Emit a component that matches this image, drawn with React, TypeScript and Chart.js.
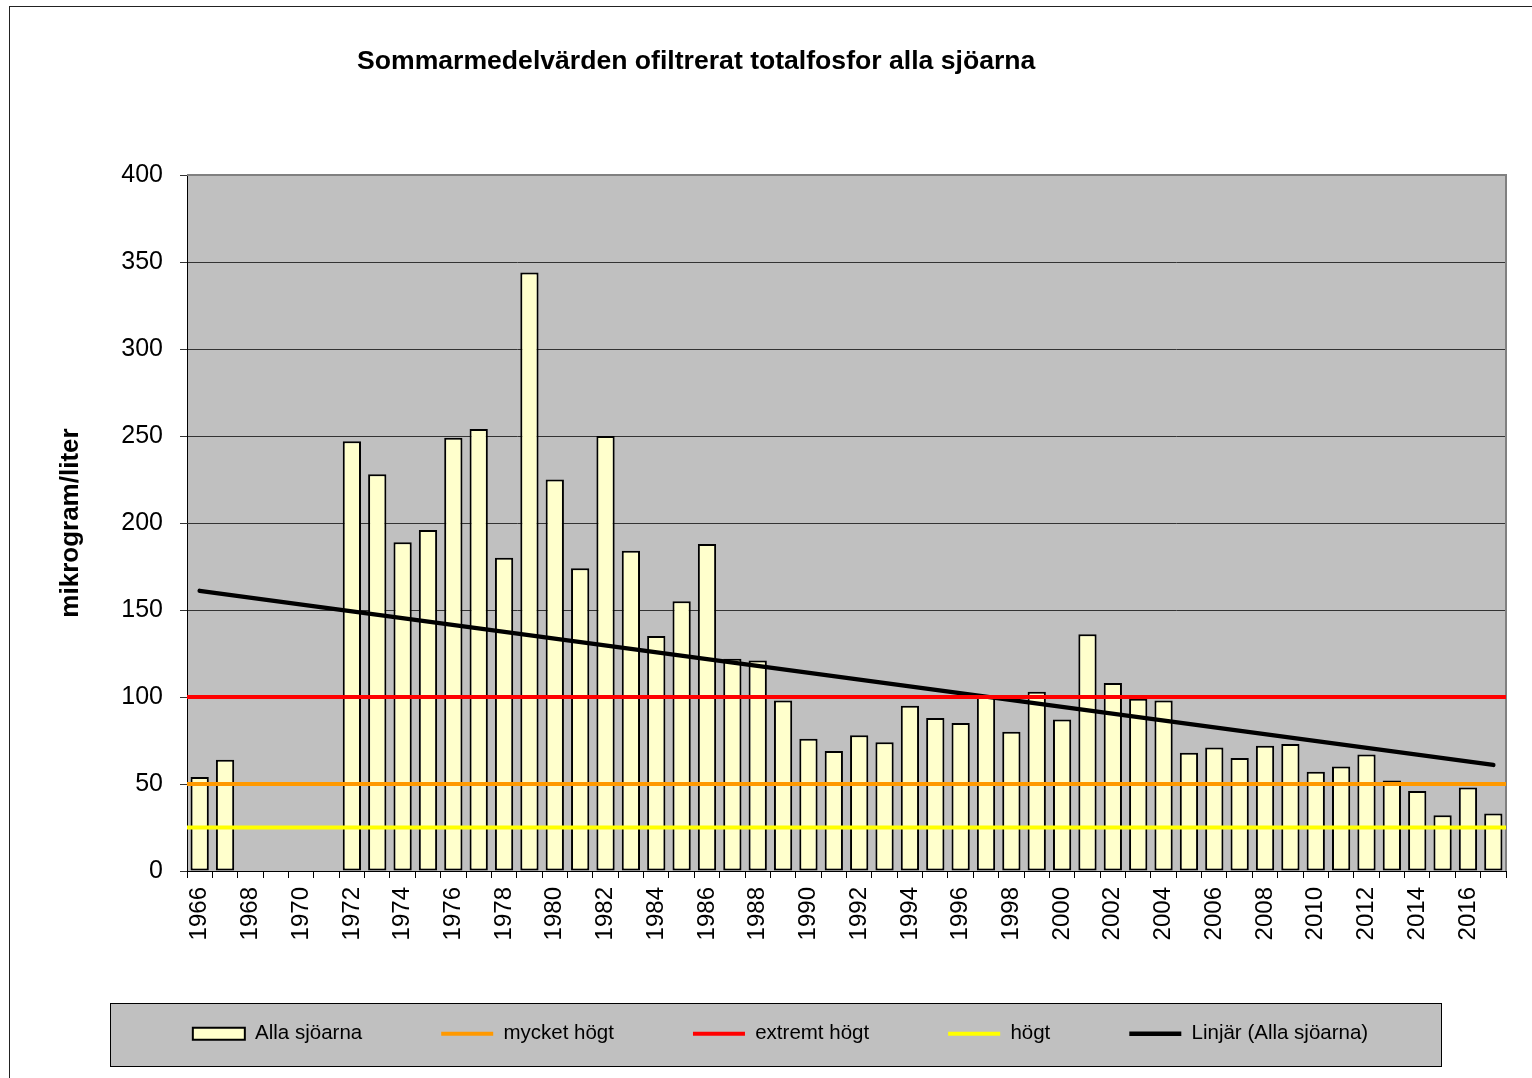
import React, { useEffect, useRef } from 'react';
import { Chart, registerables } from 'chart.js';

Chart.register(...registerables);

const FONT = '"Liberation Sans", Arial, Helvetica, sans-serif';

const chartTitle = 'Sommarmedelvärden ofiltrerat totalfosfor alla sjöarna';
const yAxisTitle = 'mikrogram/liter';

const years = [
  '1966', '1967', '1968', '1969', '1970', '1971', '1972', '1973', '1974', '1975',
  '1976', '1977', '1978', '1979', '1980', '1981', '1982', '1983', '1984', '1985',
  '1986', '1987', '1988', '1989', '1990', '1991', '1992', '1993', '1994', '1995',
  '1996', '1997', '1998', '1999', '2000', '2001', '2002', '2003', '2004', '2005',
  '2006', '2007', '2008', '2009', '2010', '2011', '2012', '2013', '2014', '2015',
  '2016', '2017',
];

// Alla sjöarna (µg/l), null = no data
const allaSjoarna: (number | null)[] = [
  54, 64, null, null, null, null, 247, 228, 189, 196,
  249, 254, 180, 344, 225, 174, 250, 184, 135, 155,
  188, 122, 121, 98, 76, 69, 78, 74, 95, 88,
  85, 101, 80, 103, 87, 136, 108, 99, 98, 68,
  71, 65, 72, 73, 57, 60, 67, 52, 46, 32,
  48, 33,
];

// threshold levels
const mycketHogt = 50;
const extremtHogt = 100;
const hogt = 25;

// linear trend end points (Linjär (Alla sjöarna))
const trendYears = ['1966', '2017'];
const trendValues = [161, 61];

const yMin = 0;
const yMax = 400;
const yStep = 50;

const seriesNames = ['Alla sjöarna', 'mycket högt', 'extremt högt', 'högt', 'Linjär (Alla sjöarna)'];

const plotFrame = {
  id: 'plotFrame',
  beforeDraw(chart: any) {
    const { ctx, chartArea } = chart;
    const { left, top, right, bottom } = chartArea;
    ctx.save();
    ctx.fillStyle = '#C0C0C0';
    ctx.fillRect(left, top, right - left, bottom - top);
    ctx.restore();
  },
  beforeDatasetsDraw(chart: any) {
    const { ctx, chartArea } = chart;
    const { left, top, right, bottom } = chartArea;
    ctx.save();
    ctx.strokeStyle = '#808080';
    ctx.lineWidth = 2;
    ctx.beginPath();
    ctx.moveTo(left, top);
    ctx.lineTo(right, top);
    ctx.lineTo(right, bottom);
    ctx.stroke();
    ctx.restore();
  },
};

function levelLine(value: number) {
  return [
    { x: 0, y: value },
    { x: 1, y: value },
  ];
}

export default function App() {
  const ref = useRef<HTMLCanvasElement>(null);

  useEffect(() => {
    if (!ref.current) return;
    Chart.defaults.font.family = FONT;
    const chart = new Chart(ref.current, {
      type: 'bar',
      data: {
        labels: years,
        datasets: [
          {
            type: 'bar',
            label: seriesNames[0],
            data: allaSjoarna,
            backgroundColor: '#FFFFCC',
            borderColor: '#000000',
            borderWidth: 2,
            borderSkipped: false,
            grouped: false,
            barPercentage: 0.72,
            categoryPercentage: 1,
            pointStyle: 'rect',
            order: 1,
          } as any,
          {
            type: 'line',
            label: seriesNames[1],
            data: levelLine(mycketHogt),
            xAxisID: 'xLine',
            borderColor: '#FF9900',
            backgroundColor: '#FF9900',
            borderWidth: 4,
            pointRadius: 0,
            pointStyle: 'line',
            borderCapStyle: 'round',
            order: 0,
          } as any,
          {
            type: 'line',
            label: seriesNames[2],
            data: levelLine(extremtHogt),
            xAxisID: 'xLine',
            borderColor: '#FF0000',
            backgroundColor: '#FF0000',
            borderWidth: 4,
            pointRadius: 0,
            pointStyle: 'line',
            borderCapStyle: 'round',
            order: 0,
          } as any,
          {
            type: 'line',
            label: seriesNames[3],
            data: levelLine(hogt),
            xAxisID: 'xLine',
            borderColor: '#FFFF00',
            backgroundColor: '#FFFF00',
            borderWidth: 4,
            pointRadius: 0,
            pointStyle: 'line',
            borderCapStyle: 'round',
            order: 0,
          } as any,
          {
            type: 'line',
            label: seriesNames[4],
            data: trendYears.map((yr, i) => ({ x: yr, y: trendValues[i] })),
            xAxisID: 'x',
            borderColor: '#000000',
            backgroundColor: '#000000',
            borderWidth: 4.5,
            pointRadius: 0,
            pointStyle: 'line',
            borderCapStyle: 'round',
            order: 0,
          } as any,
        ],
      },
      options: {
        responsive: false,
        animation: false,
        devicePixelRatio: 1,
        events: [],
        layout: { padding: { left: 55, top: 175, right: 26, bottom: 24 } },
        scales: {
          x: {
            type: 'category',
            offset: true,
            grid: {
              display: true,
              drawOnChartArea: false,
              drawTicks: true,
              tickLength: 7,
              color: '#000000',
              offset: true,
            },
            border: { display: true, color: '#000000', width: 1 },
            ticks: {
              autoSkip: false,
              maxRotation: 90,
              minRotation: 90,
              padding: 9,
              color: '#000000',
              font: { size: 24, family: FONT },
              callback: (_v: any, i: number) => (i % 2 === 0 ? years[i] : ''),
            },
            afterFit: (s: any) => {
              s.height = 73.5;
            },
          },
          xLine: {
            type: 'linear',
            display: false,
            offset: false,
            grid: { offset: false },
            min: 0,
            max: 1,
          },
          y: {
            type: 'linear',
            min: yMin,
            max: yMax,
            ticks: {
              stepSize: yStep,
              padding: 17,
              color: '#000000',
              font: { size: 25, family: FONT },
            },
            grid: { color: '#333333', tickLength: 7, lineWidth: 1 },
            border: { display: true, color: '#000000', width: 1 },
            title: {
              display: true,
              text: yAxisTitle,
              color: '#000000',
              font: { size: 26, weight: 'bold', family: FONT },
              padding: { top: 0, bottom: 0 },
            },
            afterFit: (s: any) => {
              s.width = 132;
            },
          },
        },
        plugins: {
          title: { display: false },
          tooltip: { enabled: false },
          legend: {
            display: true,
            position: 'bottom',
            labels: {
              usePointStyle: true,
              pointStyleWidth: 52,
              boxHeight: 12,
              padding: 79,
              color: '#000000',
              font: { size: 20.5, family: FONT },
              sort: (a: any, b: any) => a.datasetIndex - b.datasetIndex,
            },
          },
        },
      } as any,
      plugins: [plotFrame],
    });
    return () => chart.destroy();
  }, []);

  return (
    <div
      style={{
        position: 'absolute',
        left: 0,
        top: 0,
        width: 1532,
        height: 1078,
        overflow: 'hidden',
        background: '#FFFFFF',
        fontFamily: FONT,
      }}
    >
      <div
        style={{
          position: 'absolute',
          left: 9,
          top: 6,
          width: 1560,
          height: 1100,
          borderLeft: '1px solid #222',
          borderTop: '1px solid #222',
        }}
      />
      <div
        style={{
          position: 'absolute',
          left: 110,
          top: 1003,
          width: 1330,
          height: 62,
          background: '#C0C0C0',
          border: '1px solid #000',
        }}
      />
      <canvas
        ref={ref}
        width={1532}
        height={1078}
        style={{ position: 'absolute', left: 0, top: 0, width: 1532, height: 1078 }}
      />
      <div
        style={{
          position: 'absolute',
          left: 357,
          top: 47,
          fontSize: 26.6,
          lineHeight: '27px',
          fontWeight: 'bold',
          whiteSpace: 'nowrap',
          color: '#000',
        }}
      >
        {chartTitle}
      </div>
    </div>
  );
}
